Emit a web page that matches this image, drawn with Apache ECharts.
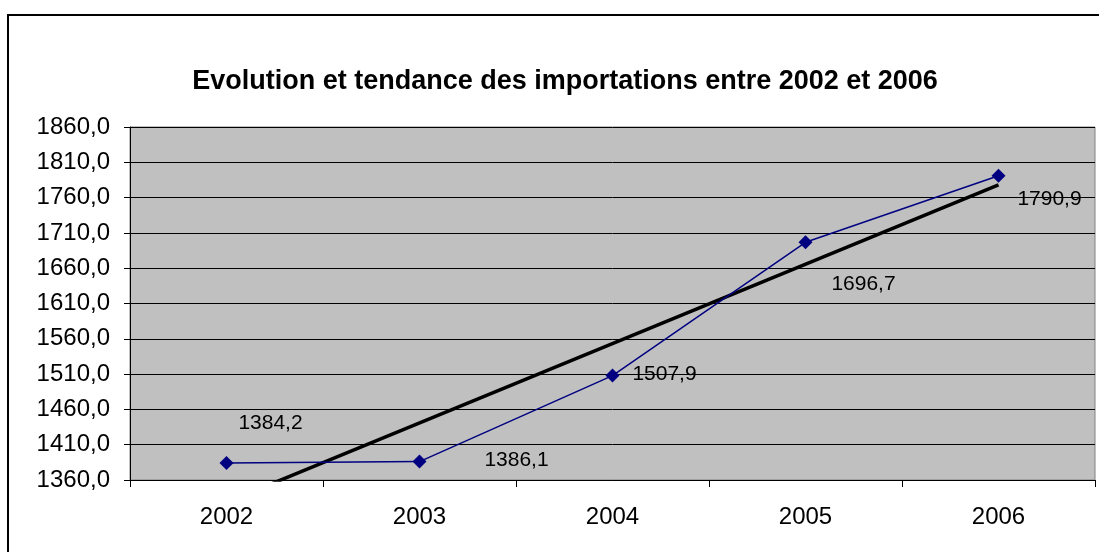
<!DOCTYPE html>
<html>
<head>
<meta charset="utf-8">
<script src="https://cdn.jsdelivr.net/npm/echarts@6/dist/echarts.min.js"></script>
<style>
  html, body { margin: 0; padding: 0; background: #fff; }
  #frame { position: absolute; left: 7px; top: 14px; width: 1100px; height: 560px; border: 2px solid #000; box-sizing: border-box; }
  #chart { position: absolute; left: 0; top: 0; width: 1099px; height: 552px; }
</style>
</head>
<body>
<div id="frame"></div>
<div id="chart"></div>
<script>
// données
const years = ['2002', '2003', '2004', '2005', '2006'];
const imports = [1384.2, 1386.1, 1507.9, 1696.7, 1790.9];
// tendance linéaire : extrémités
const trend = [1328.4, null, null, null, 1778.0];
const yTicks = { min: 1360, max: 1860, step: 50 };

// décalage des étiquettes par rapport au point (comme dans Excel)
const labelOffsets = [[44, -40], [97, -1], [52, -1], [58, 42], [51, 23]];

const fmt = v => v.toFixed(1).replace('.', ',');

const chart = echarts.init(document.getElementById('chart'));
chart.setOption({
    animation: false,
    textStyle: { fontFamily: 'Liberation Sans, Arial, sans-serif' },
    title: {
        text: 'Evolution et tendance des importations entre 2002 et 2006',
        left: 560,
        textAlign: 'center',
        top: 63,
        textStyle: { fontSize: 27, fontWeight: 'bold', color: '#000' }
    },
    grid: { left: 130, top: 127, width: 965, height: 353, containLabel: false, show: true, backgroundColor: '#c0c0c0', borderColor: '#808080', borderWidth: 1 },
    xAxis: {
        type: 'category',
        data: years,
        boundaryGap: true,
        axisLine: { lineStyle: { color: '#000', width: 1 } },
        axisTick: { show: true, length: 7, lineStyle: { color: '#000' } },
        axisLabel: { color: '#000', fontSize: 24, margin: 25 },
        splitLine: { show: false }
    },
    yAxis: {
        type: 'value',
        min: yTicks.min,
        max: yTicks.max,
        interval: yTicks.step,
        axisLine: { show: true, lineStyle: { color: '#000', width: 1 } },
        axisTick: { show: true, length: 6, lineStyle: { color: '#000' } },
        axisLabel: { color: '#000', fontSize: 24, margin: 20, formatter: fmt },
        splitLine: { show: true, lineStyle: { color: '#000', width: 1 } }
    },
    series: [
        {
            type: 'line',
            data: trend,
            connectNulls: true,
            symbol: 'none',
            clip: true,
            lineStyle: { color: '#000', width: 3.5 },
            z: 3
        },
        {
            type: 'line',
            data: imports.map((v, i) => ({
                value: v,
                label: { offset: labelOffsets[i] }
            })),
            symbol: 'diamond',
            symbolSize: 14,
            itemStyle: { color: '#000080' },
            lineStyle: { color: '#000080', width: 1.5 },
            label: {
                show: true,
                position: 'inside',
                color: '#000',
                fontSize: 21,
                formatter: p => fmt(p.value)
            },
            z: 4
        }
    ]
});
</script>
</body>
</html>
